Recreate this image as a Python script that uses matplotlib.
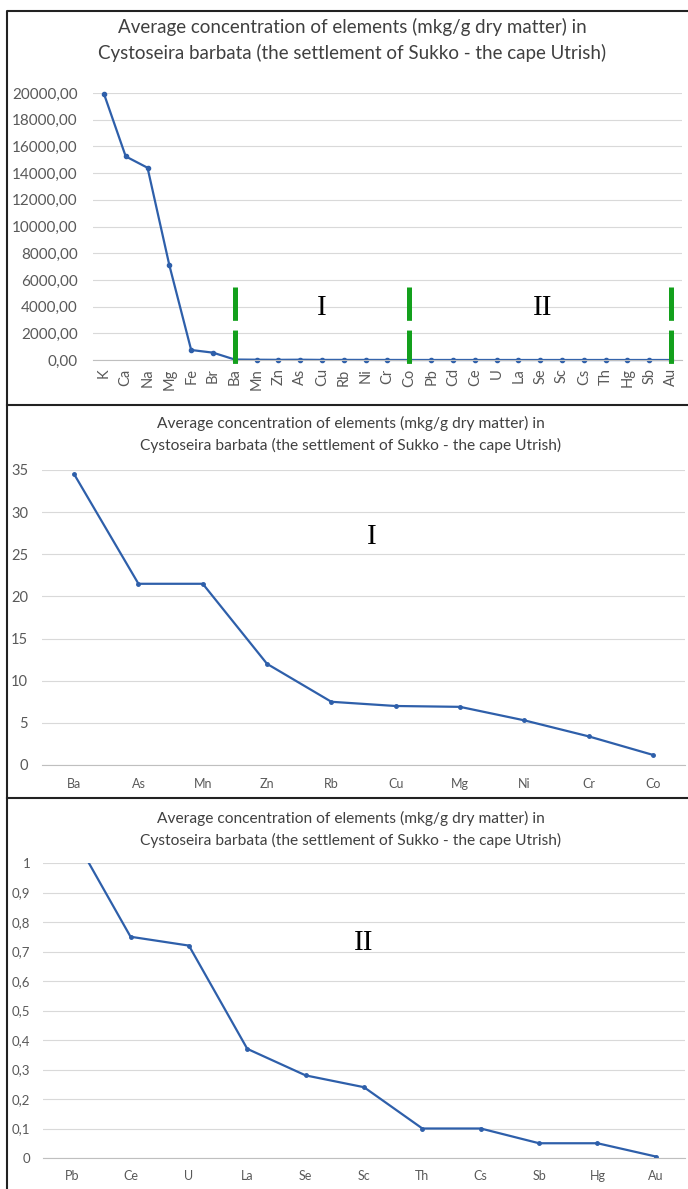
import matplotlib
matplotlib.use("Agg")
import matplotlib.pyplot as plt
from matplotlib.lines import Line2D
from matplotlib.ticker import FuncFormatter

plt.rcParams['font.family'] = ['Lato', 'DejaVu Sans']
plt.rcParams['lines.scale_dashes'] = False

# data
all_elements = ['K', 'Ca', 'Na', 'Mg', 'Fe', 'Br', 'Ba', 'Mn', 'Zn', 'As', 'Cu', 'Rb', 'Ni', 'Cr',
                'Co', 'Pb', 'Cd', 'Ce', 'U', 'La', 'Se', 'Sc', 'Cs', 'Th', 'Hg', 'Sb', 'Au']
all_values = [19950, 15250, 14400, 7100, 750, 550, 34.5, 21.5, 12, 21.5, 7.0, 7.5, 5.3, 3.4,
              1.2, 1.1, 0.8, 0.75, 0.72, 0.37, 0.28, 0.24, 0.10, 0.10, 0.05, 0.05, 0.005]
group_bounds = ['Ba', 'Co', 'Au']

group1_elements = ['Ba', 'As', 'Mn', 'Zn', 'Rb', 'Cu', 'Mg', 'Ni', 'Cr', 'Co']
group1_values = [34.5, 21.5, 21.5, 12.0, 7.5, 7.0, 6.9, 5.3, 3.4, 1.2]

group2_elements = ['Pb', 'Ce', 'U', 'La', 'Se', 'Sc', 'Th', 'Cs', 'Sb', 'Hg', 'Au']
group2_values = [1.1, 0.75, 0.72, 0.37, 0.28, 0.24, 0.10, 0.10, 0.05, 0.05, 0.005]

title_lines = ["Average concentration of elements (mkg/g dry matter) in",
               "Cystoseira barbata (the settlement of Sukko - the cape Utrish)"]

W, H = 688, 1189
line_col = '#2e5faa'
grid_col = '#d9d9d9'
text_col = '#595959'


def box(l, t, r, b):
    # pixel box (from top-left) -> figure fraction rect
    return [l / W, 1 - b / H, (r - l) / W, (b - t) / H]


def style(ax, labels, rot=0):
    for s in ax.spines.values():
        s.set_visible(False)
    ax.spines['bottom'].set_visible(True)
    ax.spines['bottom'].set_color('#bfbfbf')
    ax.yaxis.grid(True, color=grid_col, lw=0.8)
    ax.set_axisbelow(True)
    ax.tick_params(length=0, colors=text_col)
    ax.set_xticks(range(len(labels)))
    ax.set_xticklabels(labels, rotation=rot)
    ax.set_xlim(-0.5, len(labels) - 0.5)


def put_title(x, y1, y2, size):
    for txt, y in zip(title_lines, [y1, y2]):
        fig.text(x / W, 1 - y / H, txt, ha='center', va='center', fontsize=size, color='#404040')


def comma(fmt):
    return FuncFormatter(lambda v, p: (fmt % v).replace('.', ','))


fig = plt.figure(figsize=(W / 100, H / 100), dpi=100)

# panel 1
ax1 = fig.add_axes(box(93, 93, 682, 360))
ax1.plot(range(len(all_values)), all_values, color=line_col, lw=1.6, marker='o', ms=3, clip_on=False)
style(ax1, all_elements, rot=90)
ax1.set_ylim(0, 20000)
ax1.set_yticks(range(0, 20001, 2000))
ax1.yaxis.set_major_formatter(comma('%.2f'))
ax1.tick_params(axis='y', labelsize=11, pad=11)
ax1.tick_params(axis='x', labelsize=10.5, pad=6)
for el in group_bounds:
    i = all_elements.index(el)
    ax1.plot([i, i], [5500, -450], color='#13a01c', lw=3.6, dashes=(24, 7), clip_on=False, zorder=5)
ax1.text(10, 3900, 'I', family='Liberation Serif', fontsize=21, ha='center', va='center')
ax1.text(20.1, 3900, 'II', family='Liberation Serif', fontsize=21, ha='center', va='center')
put_title(352, 27, 53, 13.5)

# panel 2
ax2 = fig.add_axes(box(42, 470, 685, 765))
ax2.plot(range(len(group1_values)), group1_values, color=line_col, lw=1.6, marker='o', ms=2.5, clip_on=False)
style(ax2, group1_elements)
ax2.set_ylim(0, 35)
ax2.set_yticks(range(0, 36, 5))
ax2.tick_params(axis='y', labelsize=10.5, pad=10)
ax2.tick_params(axis='x', labelsize=9, pad=9)
ax2.text(4.63, 27, 'I', family='Liberation Serif', fontsize=21, ha='center', va='center')
put_title(351, 423, 445, 11.2)

# panel 3
ax3 = fig.add_axes(box(43, 863, 685, 1158))
ax3.plot(range(len(group2_values)), group2_values, color=line_col, lw=1.6, marker='o', ms=2.5)
style(ax3, group2_elements)
ax3.set_ylim(0, 1)
ax3.set_yticks([i / 10 for i in range(11)])
ax3.yaxis.set_major_formatter(FuncFormatter(lambda v, p: ('%g' % round(v, 1)).replace('.', ',')))
ax3.tick_params(axis='y', labelsize=9.5, pad=9)
ax3.tick_params(axis='x', labelsize=9, pad=9)
ax3.text(5.0, 0.73, 'II', family='Liberation Serif', fontsize=21, ha='center', va='center')
put_title(351, 818, 840, 11.2)

# panel borders
for y in [405, 798]:
    fig.add_artist(Line2D([7 / W, 1], [1 - y / H, 1 - y / H], color='#222222', lw=1.5))
fig.add_artist(Line2D([1, 7 / W, 7 / W], [1 - 11 / H, 1 - 11 / H, 0], color='#222222', lw=1.5))

fig.savefig('out.png', dpi=100)
